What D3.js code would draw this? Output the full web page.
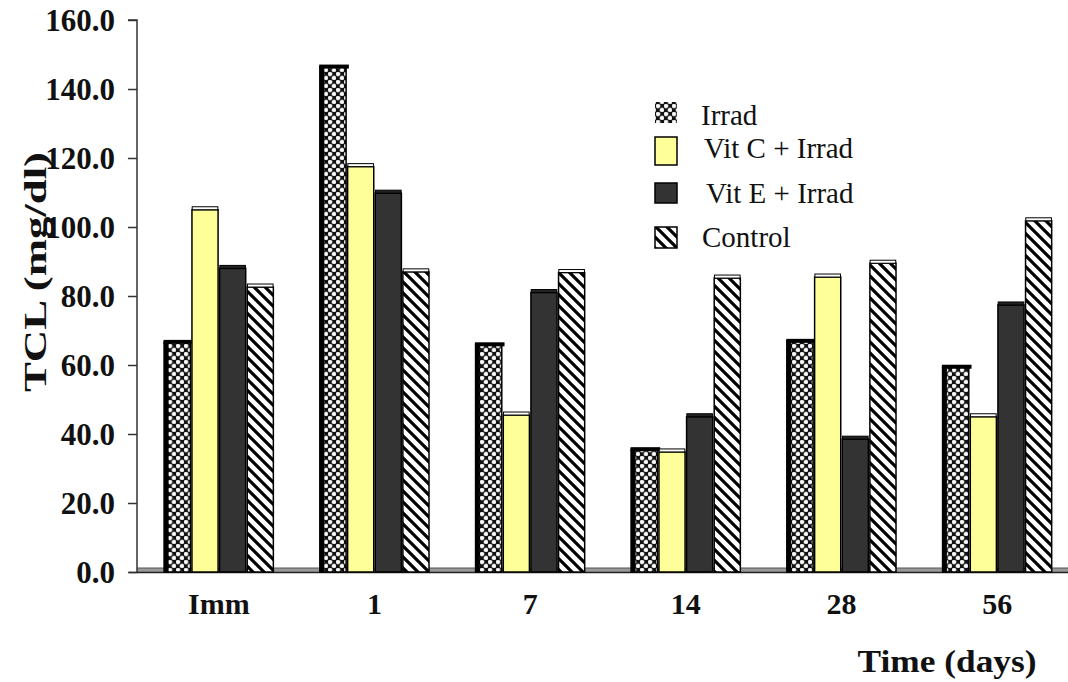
<!DOCTYPE html>
<html><head><meta charset="utf-8">
<script src="https://cdn.jsdelivr.net/npm/d3@7"></script>
<style>body{margin:0;background:#fff}svg{display:block}</style>
</head><body><svg id="c" width="1068" height="682"></svg>
<script>
const categories = ["Imm", "1", "7", "14", "28", "56"];
const seriesNames = ["Irrad", "Vit C + Irrad", "Vit E + Irrad", "Control"];
const irrad   = [66.7, 146.5, 66.0, 35.6, 67.0, 59.5];
const vitC    = [105.0, 117.5, 45.5, 34.8, 85.5, 45.0];
const vitE    = [88.0, 109.8, 81.0, 45.0, 38.5, 77.4];
const control = [82.6, 87.0, 86.8, 85.2, 89.5, 101.8];
const yTicks  = [0, 20, 40, 60, 80, 100, 120, 140, 160];

(function(){
const seriesValues = [irrad, vitC, vitE, control];
const svg = d3.select("#c");
const serif = "'Liberation Serif','Times New Roman','DejaVu Serif',serif";

// patterns
const defs = svg.append("defs");
const pI = defs.append("pattern").attr("id","pIrrad").attr("patternUnits","userSpaceOnUse")
  .attr("width",8).attr("height",8);
pI.append("rect").attr("width",8).attr("height",8).attr("fill","#111");
[[2,2],[6,6]].forEach(([cx,cy])=>{
  pI.append("circle").attr("cx",cx).attr("cy",cy).attr("r",2.3).attr("fill","#fff").attr("stroke","#777").attr("stroke-width",0.6);
});
const pC = defs.append("pattern").attr("id","pCtrl").attr("patternUnits","userSpaceOnUse")
  .attr("width",11).attr("height",11);
pC.append("rect").attr("width",11).attr("height",11).attr("fill","#fff");
pC.append("path").attr("d","M-3,-3 L14,14 M-3,8 L3,14 M8,-3 L14,3").attr("stroke","#000").attr("stroke-width",3.2);

const fills = ["url(#pIrrad)", "#FFFF99", "#333333", "url(#pCtrl)"];

const mLeft = 137, mTop = 20, mBottom = 572, mRight = 1068;
const y = d3.scaleLinear().domain([0,160]).range([mBottom, mTop]);
const x0 = d3.scaleBand().domain(categories).range([141, 1075]).paddingInner(0.29).paddingOuter(0.145);
const x1 = d3.scaleBand().domain(seriesNames).range([0, x0.bandwidth()]);

// baseline floor
svg.append("rect").attr("x", mLeft).attr("y", y(0)-4).attr("width", mRight-mLeft).attr("height", 4).attr("fill", "#999");
svg.append("line").attr("x1", mLeft).attr("x2", mRight).attr("y1", y(0)-4).attr("y2", y(0)-4).attr("stroke", "#555").attr("stroke-width", 1);
svg.append("line").attr("x1", mLeft-8).attr("x2", mRight).attr("y1", y(0)+0.5).attr("y2", y(0)+0.5).attr("stroke", "#222").attr("stroke-width", 1.5);

// bars
const g = svg.append("g");
categories.forEach((c, ci) => {
  seriesNames.forEach((s, si) => {
    const v = seriesValues[si][ci];
    const bx = x0(c) + x1(s);
    g.append("rect").attr("x", bx+0.75).attr("y", y(v)).attr("width", x1.bandwidth()-1.5)
      .attr("height", y(0) - y(v)).attr("fill", fills[si]).attr("stroke", "#000").attr("stroke-width", 1.5);
    if (si === 0) {
      g.append("rect").attr("x", bx).attr("y", y(v)).attr("width", 5).attr("height", y(0)-y(v)).attr("fill", "#000");
      g.append("rect").attr("x", bx).attr("y", y(v)-2).attr("width", x1.bandwidth()+2).attr("height", 4).attr("fill", "#000");
    } else {
      g.append("rect").attr("x", bx+1).attr("y", y(v)-3).attr("width", x1.bandwidth()-2).attr("height", 3)
        .attr("fill", si===2 ? "#222" : "#fff").attr("stroke", "#000").attr("stroke-width", 1);
    }
  });
});

// y axis
const yAxis = d3.axisLeft(y).tickValues(yTicks).tickSize(9).tickFormat(d3.format(".1f"));
const ya = svg.append("g").attr("transform", `translate(${mLeft},0)`).call(yAxis);
ya.select(".domain").attr("stroke", "#333").attr("stroke-width", 1.5).attr("d", `M-9,${mTop}H0V${mBottom}`);
ya.selectAll(".tick line").attr("stroke", "#333").attr("stroke-width", 1.5);
ya.selectAll(".tick text").attr("x", -22).attr("font-family", serif).attr("font-weight", "bold")
  .attr("font-size", 31).attr("fill", "#111").attr("dy", "0.33em");

// x axis labels
const xAxis = d3.axisBottom(x0).tickSize(0).tickPadding(20);
const xa = svg.append("g").attr("transform", `translate(0,${mBottom})`).call(xAxis);
xa.select(".domain").remove();
xa.selectAll(".tick text").attr("y", 42).attr("dy", null).attr("font-family", serif).attr("font-weight", "bold").attr("font-size", 30).attr("fill", "#111");

// axis titles
svg.append("text").attr("transform", "translate(46,272) rotate(-90)").attr("text-anchor", "middle")
  .attr("font-family", serif).attr("font-weight", "bold").attr("font-size", 32).attr("fill", "#111")
  .attr("textLength", 240).attr("lengthAdjust", "spacingAndGlyphs").text("TCL (mg/dl)");
svg.append("text").attr("x", 947).attr("y", 672).attr("text-anchor", "middle")
  .attr("font-family", serif).attr("font-weight", "bold").attr("font-size", 31).attr("fill", "#111")
  .attr("textLength", 179).attr("lengthAdjust", "spacingAndGlyphs").text("Time (days)");

// legend
const legendBase = [125, 158, 203, 247];
const legendTX = [701, 704, 706, 702];
const swY = [102, 137, 183, 227], swH = [21, 28, 20, 21];
seriesNames.forEach((s, i) => {
  svg.append("rect").attr("x", 655).attr("y", swY[i]).attr("width", 22).attr("height", swH[i])
    .attr("fill", fills[i]).attr("stroke", i===0 ? "none" : "#000").attr("stroke-width", 1.5);
  svg.append("text").attr("x", legendTX[i]).attr("y", legendBase[i])
    .attr("font-family", serif).attr("font-size", 29).attr("fill", "#111").text(s);
});
})();
</script></body></html>
